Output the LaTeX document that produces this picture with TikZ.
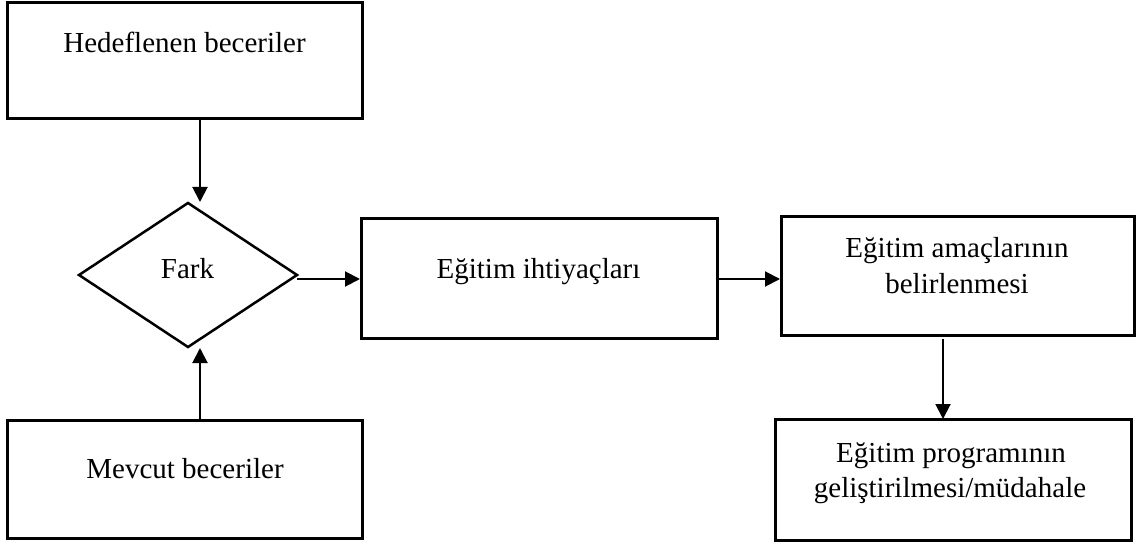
\documentclass[tikz,border=0pt]{standalone}
\usepackage{fontspec}
\setmainfont{Liberation Serif}
\usetikzlibrary{arrows.meta,shapes.geometric}
\begin{document}
\begin{tikzpicture}[x=1pt,y=-1pt,
  box/.style={draw,line width=3pt,inner sep=0pt,outer sep=0pt,rectangle},
  txt/.style={inner sep=0pt,font=\fontsize{29}{35}\selectfont,align=center},
  arr/.style={line width=2pt,-{Triangle[width=15pt,length=15pt]}}]
\useasboundingbox (0,0) rectangle (1139,545);
% boxes
\node[box,minimum width=355pt,minimum height=116pt] (b1) at (184.5,61) {};
\node[box,minimum width=355pt,minimum height=118pt] (b5) at (184.5,479) {};
\node[box,minimum width=356pt,minimum height=119pt] (b2) at (539,278.5) {};
\node[box,minimum width=353pt,minimum height=118pt] (b3) at (957.5,276) {};
\node[box,minimum width=356pt,minimum height=121pt] (b4) at (953,479.5) {};
\node[draw,diamond,line width=2.5pt,inner sep=0pt,outer sep=0pt,minimum width=218pt,minimum height=144pt] (d) at (188,275) {};
% texts
\node[txt,anchor=base] (t1) at (184.5,53) {Hedeflenen beceriler};
\node[txt,anchor=base] (t5) at (185,478) {Mevcut beceriler};
\node[txt,anchor=base] (td) at (187.5,278) {Fark};
\node[txt,anchor=base] (t2) at (538.5,278) {Eğitim ihtiyaçları};
\node[txt,anchor=base] (t3a) at (957,258) {Eğitim amaçlarının};
\node[txt,anchor=base] (t3b) at (957,293) {belirlenmesi};
\node[txt,anchor=base] (t4a) at (951,462) {Eğitim programının};
\node[txt,anchor=base] (t4b) at (950,497) {geliştirilmesi/müdahale};
% connector end points
\coordinate (c1) at (200,202);
\coordinate (c2) at (200,348);
\coordinate (c3) at (360,279);
\coordinate (c4) at (780,279);
\coordinate (c5) at (943,339);
\draw[arr] (b1.south -| c1) -- (c1);
\draw[arr] (b5.north -| c2) -- (c2);
\draw[arr] (d.east |- c3) -- (c3);
\draw[arr] (b2.east |- c4) -- (c4);
\draw[arr] (c5) -- (b4.north -| c5);
\end{tikzpicture}
\end{document}
